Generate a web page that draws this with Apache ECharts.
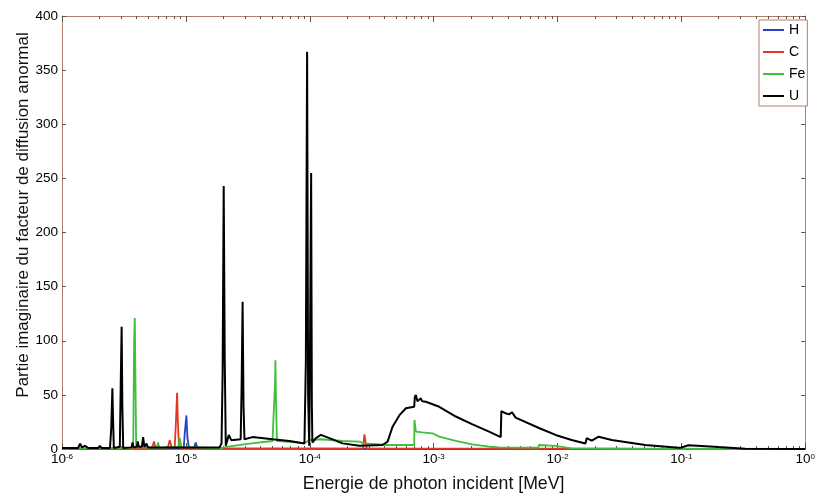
<!DOCTYPE html>
<html><head><meta charset="utf-8">
<script src="https://cdn.jsdelivr.net/npm/echarts@6/dist/echarts.min.js"></script>
<style>html,body{margin:0;padding:0;background:#fff}#c{width:818px;height:500px}</style>
</head><body><div id="c"></div>
<script>
const seriesNames = ['H', 'C', 'Fe', 'U'];
const seriesColors = ['#2a3fc8', '#e2381f', '#3fbf3a', '#000000'];

// [energy (MeV), value]
const H = [[1e-6,0],[9.6e-6,0.5],[9.8e-6,15],[1.01e-5,31],[1.03e-5,10],[1.06e-5,0.5],[1.16e-5,0.5],[1.20e-5,6],[1.24e-5,0.5],[1e-3,0],[1,0]];
const C = [[1e-6,0],[5.3e-6,0.5],[5.41e-6,2],[5.54e-6,7],[5.66e-6,1],[7.14e-6,1],[7.41e-6,8],[7.69e-6,1],[8.13e-6,2],[8.35e-6,30],[8.49e-6,52],[8.62e-6,25],[8.8e-6,1],[1.0e-5,0.3],[2.7e-4,0.5],[2.76e-4,13.5],[2.82e-4,13.5],[2.88e-4,0.5],[1,0]];
const Fe = [[1e-6,0.5],[3.64e-6,1],[3.76e-6,5],[3.82e-6,100],[3.87e-6,121],[3.92e-6,60],[3.97e-6,1.5],[4.4e-6,1.5],[5.82e-6,1],[5.97e-6,6],[6.1e-6,1],[8.7e-6,2],[8.92e-6,10],[9.2e-6,2],[1.87e-5,0.5],[2.12e-5,2],[3.27e-5,5],[5.0e-5,7.4],[5.14e-5,7.4],[5.24e-5,60],[5.28e-5,82],[5.33e-5,50],[5.43e-5,7.4],[5.7e-5,7.4],[9.06e-5,5.5],[1.0e-4,8.3],[1.23e-4,9],[1.84e-4,7.4],[2.51e-4,6.8],[2.73e-4,5.2],[4.25e-4,3.7],[6.97e-4,3.7],[7.0e-4,27],[7.19e-4,16],[8.07e-4,15.4],[9.78e-4,14.5],[1.11e-3,11.4],[1.51e-3,7.4],[2.04e-3,4.3],[2.8e-3,2.1],[3.4e-3,1.5],[7.0e-3,1.2],[7.08e-3,3.7],[9.64e-3,2.8],[1.3e-2,0.6],[5e-2,0.2],[1,0]];
const U = [[1e-6,1],[1.35e-6,1],[1.40e-6,5],[1.45e-6,1.5],[1.53e-6,3],[1.62e-6,1],[1.96e-6,1],[2.02e-6,3],[2.08e-6,1],[2.44e-6,1],[2.50e-6,20],[2.55e-6,56],[2.58e-6,30],[2.62e-6,1],[2.93e-6,2],[2.98e-6,60],[3.03e-6,113],[3.07e-6,40],[3.12e-6,1],[3.64e-6,1.5],[3.71e-6,6],[3.78e-6,1.5],[4.02e-6,2],[4.09e-6,7],[4.16e-6,2],[4.41e-6,2],[4.52e-6,11],[4.62e-6,2],[4.81e-6,5],[4.93e-6,1.5],[1.87e-5,1.5],[1.94e-5,5],[1.98e-5,70],[2.02e-5,243],[2.06e-5,80],[2.10e-5,3],[2.22e-5,13],[2.33e-5,8],[2.77e-5,9],[2.82e-5,60],[2.87e-5,136],[2.92e-5,40],[2.97e-5,9],[3.07e-5,10],[3.45e-5,11],[5.0e-5,9],[6.86e-5,7.4],[9.06e-5,5],[9.3e-5,80],[9.52e-5,367],[9.7e-5,50],[9.9e-5,3],[1.00e-4,60],[1.026e-4,255],[1.04e-4,40],[1.05e-4,6],[1.12e-4,10],[1.23e-4,13],[1.44e-4,10],[1.84e-4,5.2],[2.51e-4,3],[3.87e-4,3.7],[4.25e-4,6.8],[4.66e-4,20.6],[5.28e-4,31],[5.97e-4,37.6],[6.97e-4,39],[7.05e-4,48],[7.19e-4,50],[7.40e-4,44],[7.64e-4,43.7],[7.88e-4,46.8],[8.1e-4,44],[8.65e-4,43.7],[1.11e-3,39],[1.51e-3,30],[2.04e-3,23],[2.80e-3,16],[3.48e-3,11],[3.52e-3,35],[3.81e-3,33],[4.06e-3,32],[4.29e-3,34],[4.59e-3,29],[7.08e-3,19.4],[9.64e-3,13],[1.30e-2,8.3],[1.68e-2,5],[1.72e-2,10],[1.89e-2,7.7],[2.15e-2,11.4],[2.74e-2,8.3],[5.11e-2,3.7],[9.49e-2,1.2],[1.0e-1,1.4],[1.14e-1,3.4],[1.45e-1,2.8],[1.99e-1,1.8],[3.27e-1,0.3],[1,0]];

const xMajorTicks = [1e-6, 1e-5, 1e-4, 1e-3, 1e-2, 1e-1, 1];
const xMinorTicks = [];
for (let d = -6; d < 0; d++) for (let k = 2; k <= 9; k++) xMinorTicks.push(+(k * Math.pow(10, d)).toPrecision(3));
const yTicks = [0, 50, 100, 150, 200, 250, 300, 350, 400];

const FONT = 'Liberation Sans, Arial, sans-serif';
const AXIS_COLOR = '#b0806c';
const TICK_COLOR = '#555';

const chart = echarts.init(document.getElementById('c'), null, {renderer: 'canvas'});

function xAxisDef(pos, major, show) {
  return {
    type: 'log', logBase: 10, min: 1e-6, max: 1, position: pos, gridIndex: 0,
    axisLine: {show: show, onZero: false, lineStyle: {color: AXIS_COLOR, width: 1}},
    axisTick: {show: true, inside: true, length: major ? 6 : 3, customValues: major ? xMajorTicks : xMinorTicks, lineStyle: {color: TICK_COLOR, width: 1}},
    axisLabel: {show: false},
    splitLine: {show: false}, minorTick: {show: false}
  };
}
const xBottom = xAxisDef('bottom', true, true);
xBottom.axisLabel = {
  show: true, customValues: xMajorTicks, margin: 4,
  formatter: function (v) { return '{b|10}{s|' + Math.round(Math.log10(v)) + '}'; },
  rich: {
    b: {fontSize: 13.5, lineHeight: 13, padding: [6, 0, 0, 0], verticalAlign: 'bottom', color: '#000', fontFamily: FONT},
    s: {fontSize: 8, lineHeight: 8, verticalAlign: 'top', color: '#000', fontFamily: FONT}
  }
};
xBottom.name = 'Energie de photon incident [MeV]';
xBottom.nameLocation = 'middle';
xBottom.nameGap = 26;
xBottom.nameTextStyle = {fontSize: 17.7, color: '#111', fontFamily: FONT};

function yAxisDef(pos, labels) {
  return {
    type: 'value', min: 0, max: 400, interval: 50, position: pos, gridIndex: 0,
    axisLine: {show: true, onZero: false, lineStyle: {color: AXIS_COLOR, width: 1}},
    axisTick: {show: true, inside: true, length: 4, lineStyle: {color: TICK_COLOR, width: 1}},
    axisLabel: {show: labels, fontSize: 13.5, margin: 4, color: '#000', fontFamily: FONT},
    splitLine: {show: false}
  };
}

const option = {
  animation: false,
  backgroundColor: '#fff',
  grid: {left: 62, right: 11, top: 16, bottom: 51, containLabel: false},
  legend: {
    orient: 'vertical', left: 759, top: 20, padding: [3, 2, 3, 3], itemGap: 8,
    itemWidth: 21, itemHeight: 14, borderColor: AXIS_COLOR, borderWidth: 1, backgroundColor: '#fff',
    itemStyle: {opacity: 0},
    textStyle: {fontSize: 14, color: '#000', fontFamily: FONT},
    data: seriesNames
  },
  xAxis: [xBottom, xAxisDef('top', true, true), xAxisDef('bottom', false, false), xAxisDef('top', false, false)],
  yAxis: [yAxisDef('left', true), yAxisDef('right', false)],
  graphic: [{
    type: 'text', x: 23, y: 215, rotation: Math.PI / 2,
    style: {text: 'Partie imaginaire du facteur de diffusion anormal', fontSize: 17, fill: '#111', fontFamily: FONT, align: 'center', verticalAlign: 'middle'}
  }],
  series: [H, C, Fe, U].map(function (d, i) {
    return {
      name: seriesNames[i], type: 'line', data: d, xAxisIndex: 0, yAxisIndex: 0,
      symbol: 'none', smooth: false, silent: true,
      lineStyle: {color: seriesColors[i], width: i === 3 ? 2 : 1.8},
      itemStyle: {color: seriesColors[i]}
    };
  })
};
chart.setOption(option);
</script></body></html>
